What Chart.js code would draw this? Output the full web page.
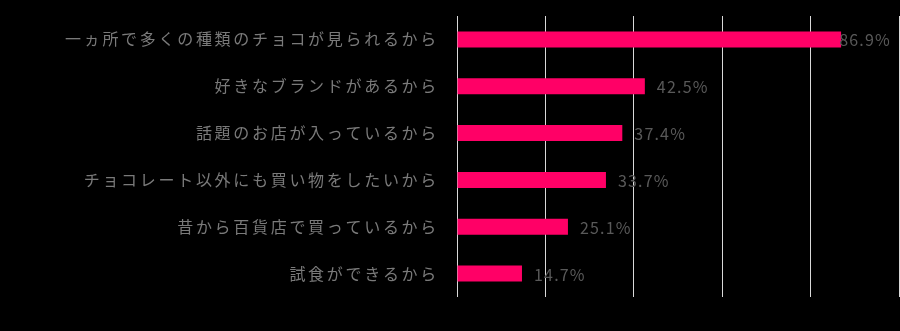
<!DOCTYPE html>
<html>
<head>
<meta charset="utf-8">
<script src="https://cdn.jsdelivr.net/npm/chart.js@4"></script>
<style>
  html, body { margin: 0; padding: 0; background: #000; }
  #wrap { width: 900px; height: 331px; }
</style>
</head>
<body>
<div id="wrap"><canvas id="c"></canvas></div>
<script>
// データ
const categories = [
  "一ヵ所で多くの種類のチョコが見られるから",
  "好きなブランドがあるから",
  "話題のお店が入っているから",
  "チョコレート以外にも買い物をしたいから",
  "昔から百貨店で買っているから",
  "試食ができるから"
];
const values = [86.9, 42.5, 37.4, 33.7, 25.1, 14.7];
const xTicks = [0, 20, 40, 60, 80, 100];

const FONT = '"Noto Sans CJK JP", "Noto Sans", sans-serif';

// 軸ラベルの字間を広げる
const spacing = {
  id: "spacing",
  beforeDraw(chart) { chart.ctx.letterSpacing = "2.7px"; },
  afterDraw(chart) { chart.ctx.letterSpacing = "0px"; }
};

// 棒の右に値ラベル（はみ出す時は左へ寄せる）
const valueLabels = {
  id: "valueLabels",
  afterDatasetsDraw(chart) {
    const ctx = chart.ctx;
    const meta = chart.getDatasetMeta(0);
    const area = chart.chartArea;
    ctx.save();
    ctx.letterSpacing = "1.2px";
    ctx.font = "16px " + FONT;
    ctx.fillStyle = "#595959";
    ctx.textBaseline = "middle";
    ctx.textAlign = "left";
    meta.data.forEach((bar, i) => {
      const text = values[i].toFixed(1) + "%";
      const w = ctx.measureText(text).width;
      let x = bar.x + 12;
      if (x + w > area.right - 8) x = area.right - 8 - w;
      ctx.fillText(text, x, bar.y + 1);
    });
    ctx.restore();
  }
};

new Chart(document.getElementById("c"), {
  type: "bar",
  data: {
    labels: categories,
    datasets: [{
      data: values,
      backgroundColor: "#FF0066",
      borderWidth: 0,
      barPercentage: 0.34,
      categoryPercentage: 1
    }]
  },
  options: {
    indexAxis: "y",
    responsive: true,
    maintainAspectRatio: false,
    animation: false,
    layout: { padding: { top: 16, bottom: 34, left: 0, right: 1 } },
    plugins: { legend: { display: false }, tooltip: { enabled: false } },
    scales: {
      x: {
        min: 0,
        max: 100,
        afterBuildTicks(scale) { scale.ticks = xTicks.map(v => ({ value: v })); },
        afterFit(scale) { scale.height = 0; scale.paddingLeft = 0; scale.paddingRight = 0; },
        ticks: { display: false },
        grid: { color: "#D9D9D9", lineWidth: 1, drawTicks: false },
        border: { display: false }
      },
      y: {
        afterFit(scale) { scale.width = 457; scale.paddingTop = 0; scale.paddingBottom = 0; },
        ticks: {
          color: "#7A7A7A",
          font: { family: FONT, size: 16 },
          padding: 18
        },
        grid: { display: false, drawTicks: false },
        border: { display: false }
      }
    }
  },
  plugins: [spacing, valueLabels]
});
</script>
</body>
</html>
